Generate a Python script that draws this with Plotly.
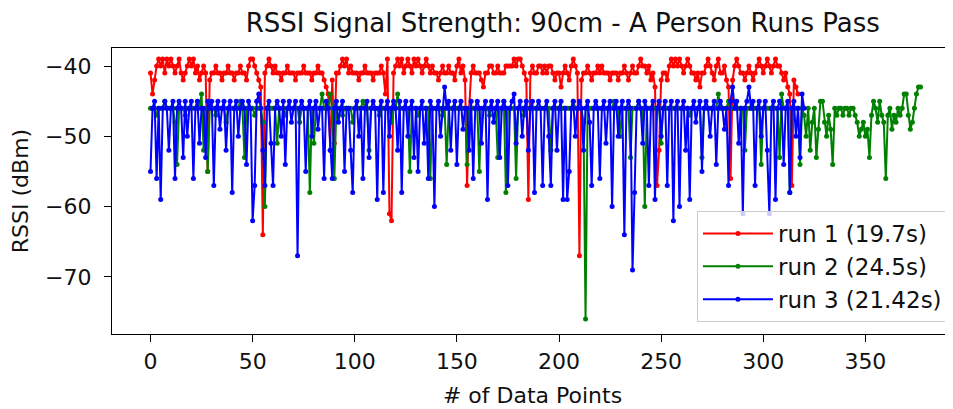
import plotly.graph_objects as go

run1 = [
    -41, -44, -42, -40, -39, -40, -39, -41, -39, -40,
    -39, -40, -41, -40, -39, -41, -42, -41, -40, -39,
    -40, -39, -41, -40, -42, -41, -40, -41, -55, -42,
    -41, -41, -40, -41, -41, -42, -41, -41, -40, -41,
    -41, -42, -41, -41, -40, -41, -41, -42, -40, -39,
    -39, -40, -41, -42, -43, -64, -41, -40, -39, -40,
    -41, -40, -41, -41, -42, -41, -41, -40, -41, -41,
    -41, -42, -41, -41, -41, -40, -41, -41, -41, -42,
    -41, -41, -40, -41, -41, -42, -43, -44, -52, -42,
    -51, -41, -41, -40, -39, -40, -39, -41, -40, -41,
    -41, -41, -42, -41, -41, -40, -41, -41, -41, -42,
    -41, -41, -41, -40, -41, -44, -39, -61, -62, -41,
    -40, -39, -40, -39, -41, -40, -39, -40, -41, -39,
    -40, -39, -40, -41, -40, -39, -40, -41, -40, -41,
    -41, -42, -41, -40, -41, -41, -40, -41, -41, -42,
    -40, -39, -41, -40, -42, -57, -46, -41, -40, -41,
    -41, -41, -42, -43, -41, -41, -40, -40, -41, -41,
    -40, -41, -41, -41, -40, -40, -40, -40, -39, -40,
    -39, -39, -40, -41, -42, -59, -41, -40, -41, -41,
    -40, -40, -41, -40, -41, -40, -40, -41, -42, -41,
    -41, -43, -41, -40, -41, -42, -40, -39, -40, -41,
    -67, -42, -41, -41, -40, -41, -42, -41, -41, -40,
    -41, -40, -41, -41, -41, -42, -41, -41, -41, -42,
    -41, -41, -40, -41, -42, -41, -40, -41, -41, -40,
    -39, -40, -40, -41, -40, -42, -41, -43, -57, -52,
    -42, -41, -41, -42, -40, -39, -40, -39, -40, -39,
    -40, -41, -40, -39, -40, -41, -41, -42, -41, -43,
    -41, -41, -40, -39, -40, -41, -42, -40, -39, -41,
    -41, -40, -42, -43, -56, -42, -40, -39, -40, -41,
    -41, -42, -41, -40, -41, -42, -41, -40, -39, -40,
    -41, -40, -39, -40, -41, -40, -39, -40, -40, -41,
    -42, -41, -43, -44, -57, -42, -43, -44,
]

run2 = [
    -46, -46, -46, -47, -46, -46, -46, -45, -46, -46,
    -46, -46, -48, -54, -46, -46, -46, -47, -46, -46,
    -46, -46, -46, -45, -46, -44, -52, -46, -55, -46,
    -46, -46, -47, -46, -46, -46, -46, -48, -46, -46,
    -46, -46, -46, -46, -45, -46, -53, -46, -46, -46,
    -46, -47, -46, -46, -46, -48, -60, -46, -46, -46,
    -46, -46, -51, -46, -46, -46, -47, -46, -46, -46,
    -46, -46, -46, -48, -46, -46, -46, -46, -58, -46,
    -51, -46, -46, -46, -44, -46, -46, -46, -44, -46,
    -56, -46, -46, -46, -47, -46, -46, -46, -46, -48,
    -46, -46, -46, -46, -45, -46, -46, -52, -46, -46,
    -46, -46, -47, -46, -46, -46, -46, -46, -48, -46,
    -46, -44, -46, -46, -46, -46, -46, -55, -46, -46,
    -46, -47, -46, -46, -46, -46, -46, -56, -46, -46,
    -46, -46, -46, -47, -46, -54, -46, -46, -46, -46,
    -46, -46, -46, -46, -46, -54, -46, -46, -46, -46,
    -46, -55, -46, -46, -46, -46, -47, -46, -46, -46,
    -53, -46, -46, -45, -58, -46, -46, -46, -46, -56,
    -46, -46, -46, -47, -46, -46, -46, -46, -46, -46,
    -46, -46, -46, -46, -46, -46, -52, -46, -46, -46,
    -46, -46, -46, -46, -46, -46, -46, -45, -46, -46,
    -46, -46, -48, -76, -46, -46, -46, -46, -46, -46,
    -46, -46, -46, -46, -46, -46, -46, -45, -46, -46,
    -50, -46, -46, -46, -46, -53, -46, -46, -46, -45,
    -46, -46, -60, -46, -46, -46, -46, -46, -46, -46,
    -51, -46, -46, -46, -46, -46, -46, -46, -46, -46,
    -46, -46, -46, -46, -47, -46, -46, -46, -46, -46,
    -53, -46, -46, -46, -46, -46, -46, -46, -44, -46,
    -46, -46, -46, -45, -46, -46, -46, -46, -46, -46,
    -46, -52, -46, -46, -46, -46, -46, -46, -46, -54,
    -46, -46, -46, -46, -46, -46, -46, -46, -53, -44,
    -46, -46, -46, -58, -46, -46, -46, -46, -54, -46,
    -47, -50, -46, -52, -48, -46, -53, -49, -45, -45,
    -48, -50, -47, -49, -54, -46, -47, -46, -46, -47,
    -46, -46, -47, -46, -46, -47, -48, -50, -49, -48,
    -50, -49, -53, -47, -45, -46, -48, -45, -47, -48,
    -56, -47, -46, -49, -47, -48, -46, -47, -46, -44,
    -44, -47, -49, -48, -46, -44, -43, -43,
]

run3 = [
    -55, -46, -45, -56, -46, -59, -46, -45, -46, -52,
    -46, -45, -56, -46, -45, -46, -53, -45, -50, -46,
    -45, -56, -46, -45, -51, -46, -46, -53, -45, -46,
    -45, -57, -46, -45, -49, -46, -45, -52, -46, -45,
    -58, -46, -45, -50, -46, -45, -46, -54, -45, -46,
    -62, -57, -45, -44, -46, -52, -57, -46, -45, -51,
    -57, -46, -45, -46, -50, -45, -54, -46, -45, -48,
    -46, -45, -67, -46, -45, -46, -55, -46, -45, -50,
    -46, -45, -49, -46, -46, -56, -45, -46, -52, -56,
    -46, -45, -48, -46, -45, -55, -46, -46, -52, -58,
    -46, -45, -50, -46, -56, -46, -45, -53, -46, -45,
    -46, -59, -46, -45, -58, -46, -45, -50, -46, -45,
    -46, -52, -45, -58, -46, -45, -50, -46, -45, -53,
    -46, -55, -46, -45, -51, -46, -56, -45, -46, -60,
    -46, -45, -50, -46, -43, -46, -45, -52, -46, -45,
    -54, -46, -45, -49, -46, -46, -52, -45, -56, -46,
    -45, -46, -51, -46, -45, -59, -46, -45, -48, -46,
    -45, -53, -46, -45, -46, -57, -46, -45, -44, -51,
    -46, -45, -50, -46, -45, -52, -46, -45, -58, -46,
    -45, -46, -57, -46, -45, -50, -57, -46, -45, -52,
    -46, -45, -59, -46, -59, -55, -46, -45, -50, -46,
    -45, -46, -52, -46, -45, -48, -57, -46, -45, -46,
    -56, -46, -45, -51, -46, -45, -60, -46, -45, -50,
    -46, -45, -64, -46, -45, -46, -69, -58, -46, -45,
    -46, -51, -45, -46, -57, -46, -45, -59, -46, -45,
    -50, -46, -45, -57, -46, -45, -62, -46, -45, -60,
    -46, -45, -52, -46, -59, -46, -45, -48, -46, -45,
    -55, -46, -45, -46, -50, -46, -45, -54, -46, -45,
    -46, -49, -46, -57, -45, -43, -46, -45, -51, -46,
    -61, -46, -45, -43, -46, -45, -57, -46, -45, -50,
    -46, -45, -52, -61, -46, -45, -59, -46, -45, -46,
    -54, -46, -45, -58, -46, -45, -50, -46, -53, -44,
    -46,
]

series = [
    ("run 1 (19.7s)", run1, "#ff0000"),
    ("run 2 (24.5s)", run2, "#008000"),
    ("run 3 (21.42s)", run3, "#0000ff"),
]

title_text = "RSSI Signal Strength: 90cm - A Person Runs Pass"
x_title = "# of Data Points"
y_title = "RSSI (dBm)"
x_ticks = [0, 50, 100, 150, 200, 250, 300, 350]
y_ticks = [-70, -60, -50, -40]

FONT = "DejaVu Sans, sans-serif"
TXT = "#111111"

fig = go.Figure()
for name, vals, color in series:
    fig.add_trace(go.Scatter(
        x=list(range(len(vals))), y=vals, mode="lines+markers", name=name,
        line=dict(color=color, width=2),
        marker=dict(color=color, size=5, symbol="circle"),
    ))

# the page body has an 8px margin, so the figure is sized/offset to compensate
fig.update_layout(
    width=945, height=401,
    margin=dict(l=104, r=0, t=40, b=75),
    paper_bgcolor="white", plot_bgcolor="white",
    font=dict(family=FONT, size=22, color=TXT),
    title=dict(text=title_text, x=0.587, xanchor="center", xref="container",
               y=0.985, yref="container", yanchor="top", pad=dict(t=0, b=0),
               font=dict(size=26, color=TXT)),
    showlegend=True,
    legend=dict(x=0.994, y=0.042, xanchor="right", yanchor="bottom",
                bgcolor="rgba(255,255,255,0.8)", bordercolor="#cccccc", borderwidth=1,
                font=dict(size=23, color=TXT), tracegroupgap=0, itemwidth=70),
)
fig.update_xaxes(
    range=[-18.85, 392.9], tickvals=x_ticks, ticktext=[str(v) for v in x_ticks],
    showgrid=False, zeroline=False, showline=True, linecolor="black", linewidth=1.2,
    mirror=True, ticks="outside", ticklen=7, tickcolor="black", automargin=False,
    title=dict(text=x_title, standoff=15, font=dict(size=22)), tickfont=dict(size=22),
)
fig.update_yaxes(
    range=[-78.12, -37.44], tickvals=y_ticks, ticktext=["\u221270", "\u221260", "\u221250", "\u221240"],
    showgrid=False, zeroline=False, showline=True, linecolor="black", linewidth=1.2,
    mirror=False, ticks="outside", ticklen=7, tickcolor="black", automargin=False,
    ticklabelstandoff=8,
    title=dict(text=y_title, standoff=12, font=dict(size=22)), tickfont=dict(size=22),
)

fig.write_html("out.html")
